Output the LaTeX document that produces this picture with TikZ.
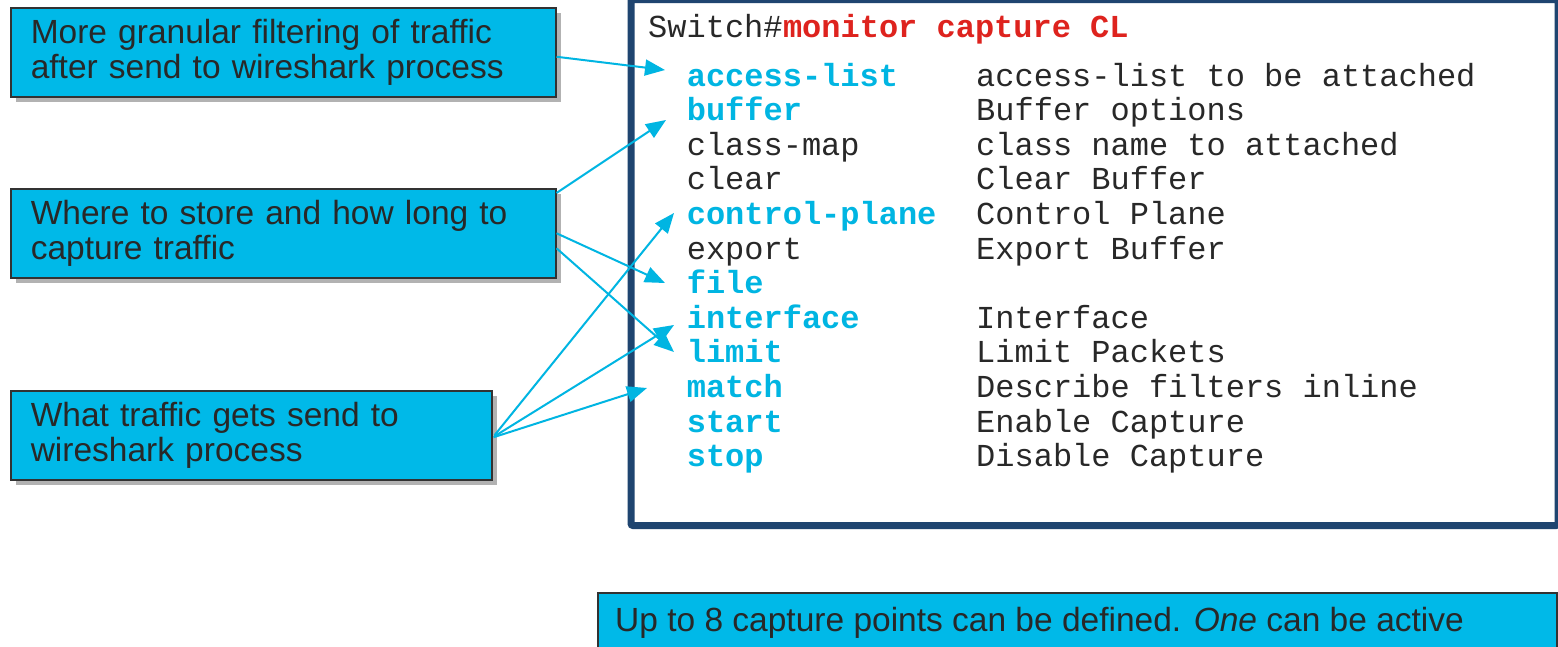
\documentclass[tikz,border=0pt]{standalone}
\usepackage{fontspec}
\setmainfont{Liberation Sans}
\newfontfamily\monofont{Liberation Mono}
\usetikzlibrary{arrows.meta,shadows}
\definecolor{boxcyan}{RGB}{0,185,232}
\definecolor{kwcyan}{RGB}{0,181,226}
\definecolor{termblue}{RGB}{31,69,112}
\definecolor{cmdred}{RGB}{222,35,30}
\definecolor{txtgray}{RGB}{40,40,40}
\definecolor{boxedge}{RGB}{50,50,50}
\begin{document}
\begin{tikzpicture}[x=1pt,y=-1pt,
  callout/.style={draw=boxedge, line width=1.5pt, fill=boxcyan,
    drop shadow={shadow xshift=5pt, shadow yshift=-5pt, opacity=0.3, fill=black},
    anchor=north west, inner xsep=20pt, inner ysep=0pt, text=txtgray,
    font=\fontsize{33.5}{35}\selectfont, align=left},
  kw/.style={anchor=base west, inner sep=0pt, text=kwcyan, font=\monofont\bfseries\fontsize{32}{32}\selectfont},
  plain/.style={anchor=base west, inner sep=0pt, text=txtgray, font=\monofont\fontsize{32}{32}\selectfont},
  cmdtext/.style={anchor=base west, inner sep=0pt, text=cmdred, font=\monofont\bfseries\fontsize{32}{32}\selectfont},
  pointer/.style={draw=kwcyan, line width=2pt, -{Triangle[length=20pt,width=16pt]}}
]
\useasboundingbox (0,0) rectangle (1558,646);
\clip (0,0) rectangle (1558,646);
\fill[white] (0,0) rectangle (1558,646);

% terminal frame
\node[draw=termblue, fill=white, line width=7pt, rounded corners=2pt, anchor=north west,
  minimum width=927pt, minimum height=526pt, inner sep=0pt] (term) at (627.5,-4) {};

% callout boxes
\node[callout, minimum width=545pt, minimum height=89pt, text width=505pt] (b1) at (10,7)
  {More granular filtering of traffic\\after send to wireshark process};
\node[callout, minimum width=545pt, minimum height=89pt, text width=505pt] (b2) at (10,188)
  {Where to store and how long to\\capture traffic};
\node[callout, minimum width=481pt, minimum height=89pt, text width=441pt] (b3) at (10,390)
  {What traffic gets send to\\wireshark process};
\node[callout, minimum width=959pt, minimum height=90pt, text width=919pt] (b4) at (597,592) {};
\node[anchor=base west, inner sep=0pt, text=txtgray, font=\fontsize{33.5}{35}\selectfont] (b4text) at (615,631)
  {Up to 8 capture points can be defined. \textit{One} can be active};

% terminal text
\node[plain] (prompt) at (648,37) {Switch\#};
\node[cmdtext] (cmd) at (prompt.base east) {monitor capture CL};

\node[kw] (kacl) at (686.6,86) {access-list};
\node[plain] (dacl) at (976,86) {access-list to be attached};
\node[kw] (kbuf) at (686.6,120.6) {buffer};
\node[plain] (dbuf) at (976,120.6) {Buffer options};
\node[plain] (kcls) at (686.6,155.2) {class-map};
\node[plain] (dcls) at (976,155.2) {class name to attached};
\node[plain] (kclr) at (686.6,189.8) {clear};
\node[plain] (dclr) at (976,189.8) {Clear Buffer};
\node[kw] (kctl) at (686.6,224.4) {control-plane};
\node[plain] (dctl) at (976,224.4) {Control Plane};
\node[plain] (kexp) at (686.6,259) {export};
\node[plain] (dexp) at (976,259) {Export Buffer};
\node[kw] (kfil) at (686.6,293.6) {file};
\node[kw] (kint) at (686.6,328.2) {interface};
\node[plain] (dint) at (976,328.2) {Interface};
\node[kw] (klim) at (686.6,362.8) {limit};
\node[plain] (dlim) at (976,362.8) {Limit Packets};
\node[kw] (kmat) at (686.6,397.4) {match};
\node[plain] (dmat) at (976,397.4) {Describe filters inline};
\node[kw] (ksta) at (686.6,432) {start};
\node[plain] (dsta) at (976,432) {Enable Capture};
\node[kw] (ksto) at (686.6,466.6) {stop};
\node[plain] (dsto) at (976,466.6) {Disable Capture};

% arrow tips
\coordinate (tipAcl) at (665,70);
\coordinate (tipBuf) at (666,120);
\coordinate (tipCtl) at (674,213);
\coordinate (tipFil) at (665,283);
\coordinate (tipInt) at (674,325);
\coordinate (tipLim) at (674,352);
\coordinate (tipMat) at (647,388);

\draw[pointer] ([yshift=-4.5pt]b1.east) -- (tipAcl);
\draw[pointer] ([yshift=-5pt]b2.north east) -- (tipBuf);
\draw[pointer] (b2.east) -- (tipFil);
\draw[pointer] ([yshift=-15pt]b2.east) -- (tipLim);
\draw[pointer] ([xshift=2pt]b3.east) -- (tipCtl);
\draw[pointer] ([xshift=2pt,yshift=-1pt]b3.east) -- (tipInt);
\draw[pointer] ([xshift=1pt,yshift=-2pt]b3.east) -- (tipMat);
\end{tikzpicture}
\end{document}
